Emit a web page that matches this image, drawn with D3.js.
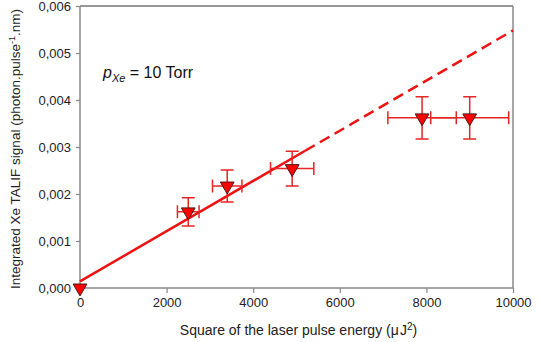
<!DOCTYPE html>
<html>
<head>
<meta charset="utf-8">
<script src="https://cdn.jsdelivr.net/npm/d3@7"></script>
<style>
  body { margin: 0; background: #fff; }
  text { font-family: "Liberation Sans", Arial, sans-serif; }
</style>
</head>
<body>
<div id="chart"></div>
<script>
// measured points (energy^2 in uJ^2, signal)
var energy2 = [0, 2500, 3400, 4900, 7900, 9000];
var signal = [0, 0.00162, 0.00217, 0.00254, 0.00362, 0.00362];
var energyErr = [0, 250, 340, 500, 790, 900];
var signalErr = [0, 0.0003, 0.00034, 0.00037, 0.00045, 0.00045];

// linear fit: solid part then dashed extrapolation
var fitSolid = [[0, 0.00014], [5200, 0.00292]];
var fitDashed = [[5200, 0.00292], [10000, 0.00548]];

var xTicks = [0, 2000, 4000, 6000, 8000, 10000];
var yTicks = [0, 0.001, 0.002, 0.003, 0.004, 0.005, 0.006];

var margin = {top: 6, right: 25, bottom: 54, left: 80};
var width = 538, height = 342;
var w = width - margin.left - margin.right;
var h = height - margin.top - margin.bottom;

var svg = d3.select("#chart")
  .append("svg")
  .attr("width", width)
  .attr("height", height)
  .append("g")
  .attr("transform", "translate(" + margin.left + "," + margin.top + ")");

var x = d3.scaleLinear().domain([0, 10000]).range([0, w]);
var y = d3.scaleLinear().domain([0, 0.006]).range([h, 0]);

var locale = d3.formatLocale({decimal: ",", thousands: "", grouping: [3], currency: ["", ""]});
var fmtY = locale.format(".3f");

// frame
svg.append("line")
  .attr("x1", 0).attr("x2", w).attr("y1", 0).attr("y2", 0)
  .attr("stroke", "#333").attr("stroke-width", 1.2);
svg.append("line")
  .attr("x1", w).attr("x2", w).attr("y1", 0).attr("y2", h)
  .attr("stroke", "#888").attr("stroke-width", 1.5);

var xAxis = svg.append("g")
  .attr("transform", "translate(0," + h + ")")
  .call(d3.axisBottom(x).tickValues(xTicks).tickSize(5).tickPadding(5).tickFormat(d3.format("d")));
var yAxis = svg.append("g")
  .call(d3.axisLeft(y).tickValues(yTicks).tickSize(4).tickPadding(5).tickFormat(fmtY));

[xAxis, yAxis].forEach(function(a) {
  a.select(".domain").attr("stroke", "#888").attr("stroke-width", 1.5);
  a.selectAll(".tick line").attr("stroke", "#888").attr("stroke-width", 1.2);
  a.selectAll(".tick text")
    .attr("fill", "#222")
    .style("font-size", "13px")
    .style("font-family", "'Liberation Sans', Arial, sans-serif");
});
xAxis.select(".domain").attr("d", "M0,0H" + w);
yAxis.select(".domain").attr("d", "M0," + h + "V0");

// fit line
var line = d3.line()
  .x(function(d) { return x(d[0]); })
  .y(function(d) { return y(d[1]); });

svg.append("path")
  .attr("d", line(fitSolid))
  .attr("stroke", "#ee1111")
  .attr("stroke-width", 2.5)
  .attr("fill", "none");
svg.append("path")
  .attr("d", line(fitDashed))
  .attr("stroke", "#ee1111")
  .attr("stroke-width", 2.5)
  .attr("stroke-dasharray", "11,6")
  .attr("fill", "none");

// error bars
var errColor = "#e82525";
var cap = 6.5;
var pts = energy2.map(function(d, i) {
  return {x: d, y: signal[i], ex: energyErr[i], ey: signalErr[i]};
}).filter(function(d) { return d.ex > 0; });

var eb = svg.selectAll(".eb")
  .data(pts)
  .enter()
  .append("g")
  .attr("class", "eb")
  .attr("stroke", errColor)
  .attr("stroke-width", 1.5)
  .attr("fill", "none");

eb.append("path")
  .attr("d", function(d) {
    var cx = x(d.x), cy = y(d.y);
    var x0 = x(d.x - d.ex), x1 = x(d.x + d.ex);
    var y0 = y(d.y - d.ey), y1 = y(d.y + d.ey);
    return "M" + x0 + "," + cy + "H" + x1 +
      "M" + x0 + "," + (cy - cap) + "V" + (cy + cap) +
      "M" + x1 + "," + (cy - cap) + "V" + (cy + cap) +
      "M" + cx + "," + y0 + "V" + y1 +
      "M" + (cx - cap) + "," + y0 + "H" + (cx + cap) +
      "M" + (cx - cap) + "," + y1 + "H" + (cx + cap);
  });

// markers
svg.selectAll(".pt")
  .data(energy2)
  .enter()
  .append("path")
  .attr("class", "pt")
  .attr("d", d3.symbol(d3.symbolTriangle).size(82))
  .attr("transform", function(d, i) {
    return "translate(" + x(d) + "," + y(signal[i]) + ") rotate(180)";
  })
  .attr("fill", "#ff0000")
  .attr("stroke", "#4a1a1a")
  .attr("stroke-width", 1);

// axis titles
var xt = svg.append("text")
  .attr("x", w / 2 + 2)
  .attr("y", h + 47)
  .attr("text-anchor", "middle")
  .attr("fill", "#222")
  .style("font-size", "14px")
  .text("Square of the laser pulse energy (");
xt.append("tspan").text("\u03bc\u200aJ");
xt.append("tspan").attr("dy", -5).style("font-size", "10px").text("2");
xt.append("tspan").attr("dy", 5).text(")");

var yt = svg.append("text")
  .attr("transform", "translate(" + (-60) + "," + (h / 2 + 2) + ") rotate(-90)")
  .attr("text-anchor", "middle")
  .attr("fill", "#222")
  .style("font-size", "13.5px")
  .text("Integrated Xe TALIF signal (photon.pulse");
yt.append("tspan").attr("dy", -5).style("font-size", "9px").text("-1");
yt.append("tspan").attr("dy", 5).text(".nm)");

// pressure label
var lab = svg.append("text")
  .attr("x", 23)
  .attr("y", 72)
  .attr("fill", "#111")
  .style("font-size", "16px");
lab.append("tspan").style("font-style", "italic").text("p");
lab.append("tspan").attr("dy", 4).style("font-style", "italic").style("font-size", "11px").text("Xe");
lab.append("tspan").attr("dy", -4).text(" = 10 Torr");
</script>
</body>
</html>
